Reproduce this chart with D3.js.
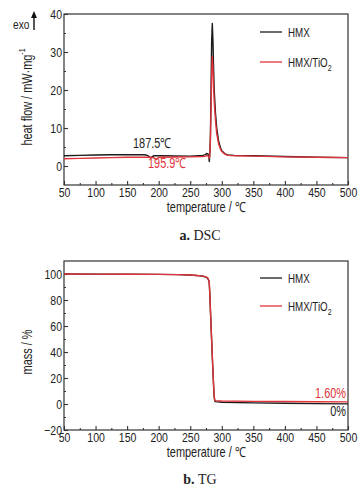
<!DOCTYPE html>
<html>
<head>
<meta charset="utf-8">
<script src="https://cdn.jsdelivr.net/npm/d3@7/dist/d3.min.js"></script>
<style>
body { margin: 0; background: #fff; }
text { font-family: "Liberation Sans", Arial, sans-serif; fill: #222; }
.cap { font-family: "Liberation Serif", "DejaVu Serif", serif; }
</style>
</head>
<body>
<svg id="chart" width="361" height="490"></svg>
<script>
// x ticks shared by both panels
var xTicks = [50, 100, 150, 200, 250, 300, 350, 400, 450, 500];

// DSC data (temperature / C, heat flow / mW/mg)
var dscTemp = [50, 75, 100, 125, 150, 175, 180, 184, 187.5, 190, 193, 195.9, 199, 205, 225, 250, 270, 274, 276, 278, 279.5, 280.2, 281, 282, 283, 284, 285, 286, 287, 288, 290, 292, 295, 298, 300, 305, 310, 320, 350, 400, 450, 500];
var dscHMX = [2.7, 2.8, 2.9, 2.95, 3.0, 2.95, 2.9, 2.6, 2.1, 2.5, 2.7, 2.7, 2.7, 2.7, 2.65, 2.6, 2.8, 3.0, 3.3, 3.2, 2.6, 1.2, 3.0, 8, 20, 33, 37.5, 33, 26, 20, 14, 10, 6.5, 4.8, 4.0, 3.2, 2.9, 2.8, 2.7, 2.5, 2.3, 2.2];
var dscTiO2 = [1.9, 2.0, 2.1, 2.2, 2.3, 2.3, 2.3, 2.3, 2.3, 2.25, 2.1, 1.7, 2.2, 2.3, 2.35, 2.4, 2.5, 2.6, 2.7, 2.7, 2.5, 2.0, 2.8, 6.5, 15, 24, 28.8, 26, 21, 17, 12, 8.5, 5.8, 4.4, 3.8, 3.1, 2.8, 2.7, 2.6, 2.4, 2.3, 2.2];
var dscYTicks = [0, 10, 20, 30, 40];

// TG data (temperature / C, mass / %)
var tgTemp = [50, 100, 150, 200, 230, 250, 260, 270, 275, 278, 280, 281, 282, 283, 284, 285, 286, 287, 288, 289, 290, 300, 350, 400, 450, 500];
var tgHMX = [100, 99.9, 99.8, 99.7, 99.5, 99.2, 98.9, 98.3, 97.6, 96.5, 94, 85, 72, 60, 48, 36, 25, 14, 5, 2.3, 1.8, 1.4, 0.9, 0.6, 0.3, 0.1];
var tgTiO2 = [100, 99.9, 99.8, 99.7, 99.5, 99.2, 98.9, 98.4, 97.8, 96.8, 94.5, 86, 73, 61, 49, 37, 26, 15, 6, 3.0, 2.6, 2.3, 2.0, 1.9, 1.7, 1.6];
var tgYTicks = [-20, 0, 20, 40, 60, 80, 100];

var BLACK = "#1b1b1b", RED = "#e0343a", AXIS = "#333";
var NARROW = 0.78;   // the original uses a narrow sans, squeeze the glyphs
var svg = d3.select("#chart");

//squeeze texts horizontally along their own direction
function squeeze(sel) {
    sel.each(function () {
        var t = d3.select(this);
        var x = +t.attr("x") || 0, y = +t.attr("y") || 0;
        var tr = t.attr("transform") || "";
        t.attr("x", 0).attr("y", 0)
            .attr("transform", tr + " translate(" + x + "," + y + ") scale(" + NARROW + ",1)");
    });
}

function drawPanel(p) {
    var x = d3.scaleLinear().domain([50, 500]).range([64, 348]);
    var y = d3.scaleLinear().domain(p.yDomain).range(p.yRange);
    var g = svg.append("g");

    //frame
    g.append("rect")
        .attr("x", 64).attr("y", p.yRange[1])
        .attr("width", 284).attr("height", p.yRange[0] - p.yRange[1])
        .style("fill", "none").style("stroke", AXIS).style("stroke-width", 1.2);

    //x axis ticks, inward
    var xAxis = d3.axisBottom(x).tickValues(xTicks).tickSizeInner(-4).tickSizeOuter(0).tickPadding(2);
    g.append("g").attr("transform", "translate(0," + p.yRange[0] + ")").call(xAxis);
    var xMinor = d3.axisBottom(x).tickValues(d3.range(75, 500, 50)).tickSize(-2).tickFormat("");
    g.append("g").attr("transform", "translate(0," + p.yRange[0] + ")").call(xMinor);

    //y axis ticks
    var yAxis = d3.axisLeft(y).tickValues(p.yTicks).tickSizeInner(-4).tickSizeOuter(0).tickPadding(2);
    var yg = g.append("g").attr("transform", "translate(64,0)").call(yAxis);
    var yMinor = d3.axisLeft(y).tickValues(p.yMinor).tickSize(-2).tickFormat("");
    g.append("g").attr("transform", "translate(64,0)").call(yMinor);

    g.selectAll(".domain").remove();
    g.selectAll(".tick line").style("stroke", AXIS).style("stroke-width", 1.1);
    g.selectAll(".tick text").style("font-size", "13.5px").style("font-family", null).style("fill", "#222");
    yg.selectAll(".tick text").attr("dy", "0.36em");
    squeeze(g.selectAll(".tick text"));

    //curves
    var line = d3.line().x(function (d) { return x(d[0]); }).y(function (d) { return y(d[1]); });
    p.series.forEach(function (s) {
        g.append("path")
            .datum(p.temp.map(function (t, i) { return [t, s.values[i]]; }))
            .attr("d", line)
            .style("fill", "none")
            .style("stroke", s.color)
            .style("stroke-width", 1.4)
            .style("stroke-linejoin", "round");
    });

    //legend
    p.series.forEach(function (s, i) {
        var ly = p.legendY[i];
        g.append("line")
            .attr("x1", 260).attr("x2", 282).attr("y1", ly).attr("y2", ly)
            .style("stroke", s.color).style("stroke-width", 1.3);
        var t = g.append("text").attr("x", 288).attr("y", ly + 4.5).style("font-size", "12.5px");
        if (s.sub) {
            t.append("tspan").text(s.name);
            t.append("tspan").attr("dy", 4).style("font-size", "9px").text(s.sub);
        } else {
            t.text(s.name);
        }
        squeeze(t);
    });

    //x title
    squeeze(g.append("text")
        .attr("x", 206).attr("y", p.yRange[0] + 26.5)
        .style("text-anchor", "middle").style("font-size", "14px")
        .text("temperature / \u2103"));

    //caption
    var cap = g.append("text").attr("class", "cap")
        .attr("x", 200).attr("y", p.capY)
        .style("text-anchor", "middle").style("font-size", "14px");
    cap.append("tspan").style("font-weight", "bold").text(p.capLetter + " ");
    cap.append("tspan").text(p.capName);

    return { x: x, y: y, g: g };
}

//DSC panel
var dsc = drawPanel({
    yDomain: [-5, 40], yRange: [185, 14],
    yTicks: dscYTicks, yMinor: [5, 15, 25, 35],
    temp: dscTemp,
    series: [
        { name: "HMX", values: dscHMX, color: BLACK },
        { name: "HMX/TiO", sub: "2", values: dscTiO2, color: RED }
    ],
    legendY: [32, 62],
    capY: 240, capLetter: "a.", capName: "DSC"
});

//y title with superscript
var dt = dsc.g.append("text")
    .attr("transform", "translate(32,97) rotate(-90)")
    .style("text-anchor", "middle").style("font-size", "14px");
dt.append("tspan").text("heat flow / mW\u00b7mg");
dt.append("tspan").attr("dy", -7).style("font-size", "9px").text("-1");
squeeze(dt);

//exo arrow
squeeze(dsc.g.append("text").attr("x", 13).attr("y", 29).style("font-size", "13px").text("exo"));
dsc.g.append("line")
    .attr("x1", 34).attr("x2", 34).attr("y1", 30).attr("y2", 17)
    .style("stroke", "#111").style("stroke-width", 1.4);
dsc.g.append("path")
    .attr("d", "M31,18 L34,11 L37,18 Z")
    .style("fill", "#111");

//peak annotations
squeeze(dsc.g.append("text").attr("x", 133).attr("y", 148).style("font-size", "14px").text("187.5\u2103"));
squeeze(dsc.g.append("text").attr("x", 148).attr("y", 168).style("font-size", "14px").style("fill", RED).text("195.9\u2103"));

//TG panel
var tg = drawPanel({
    yDomain: [-20, 110], yRange: [430, 261],
    yTicks: tgYTicks, yMinor: [-10, 10, 30, 50, 70, 90],
    temp: tgTemp,
    series: [
        { name: "HMX", values: tgHMX, color: BLACK },
        { name: "HMX/TiO", sub: "2", values: tgTiO2, color: RED }
    ],
    legendY: [278, 306],
    capY: 484, capLetter: "b.", capName: "TG"
});

squeeze(tg.g.append("text")
    .attr("transform", "translate(32,352) rotate(-90)")
    .style("text-anchor", "middle").style("font-size", "14px")
    .text("mass / %"));

squeeze(tg.g.append("text").attr("x", 346).attr("y", 398).style("text-anchor", "end")
    .style("font-size", "14px").style("fill", RED).text("1.60%"));
squeeze(tg.g.append("text").attr("x", 346).attr("y", 416).style("text-anchor", "end")
    .style("font-size", "14px").text("0%"));
</script>
</body>
</html>
